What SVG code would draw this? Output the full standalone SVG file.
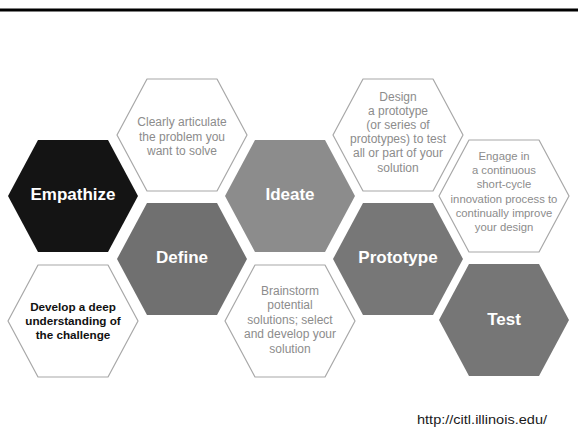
<svg xmlns="http://www.w3.org/2000/svg" xmlns:xlink="http://www.w3.org/1999/xlink" width="578" height="444" viewBox="0 0 578 444">
<style>
.bg{fill:#ffffff}
.outline{fill:#ffffff;stroke:#a8a8a8;stroke-width:1.2}
.t-big{font-family:"Liberation Sans",Arial,sans-serif;font-weight:bold;font-size:17px;fill:#ffffff;text-anchor:middle}
.t-small{font-family:"Liberation Sans",Arial,sans-serif;font-size:12px;fill:#8c8c8c;text-anchor:middle}
.t-eng{font-family:"Liberation Sans",Arial,sans-serif;font-size:11.3px;fill:#8c8c8c;text-anchor:middle}
.t-dev{font-family:"Liberation Sans",Arial,sans-serif;font-weight:bold;font-size:11.7px;fill:#111111;text-anchor:middle}
.t-url{font-family:"Liberation Sans",Arial,sans-serif;font-size:13.5px;fill:#1a1a1a}
</style>
<defs>
<polygon id="hex" points="-65,0 -35,-56 35,-56 65,0 35,56 -35,56" stroke-linejoin="round"/>
</defs>
<rect class="bg" x="0" y="0" width="578" height="444"/>
<rect x="0" y="8.5" width="578" height="3" fill="#000000"/>

<g id="connectors"></g>

<g id="empathize">
<use xlink:href="#hex" href="#hex" x="73" y="196" fill="#141414"/>
<text class="t-big" x="73" y="200">Empathize</text>
</g>

<g id="develop">
<use xlink:href="#hex" href="#hex" x="73" y="321" class="outline"/>
<text class="t-dev" x="73" y="311">Develop a deep</text>
<text class="t-dev" x="73" y="325">understanding of</text>
<text class="t-dev" x="73" y="339">the challenge</text>
</g>

<g id="clearly">
<use xlink:href="#hex" href="#hex" x="182" y="135" class="outline"/>
<text class="t-small" x="182" y="126">Clearly articulate</text>
<text class="t-small" x="182" y="140.5">the problem you</text>
<text class="t-small" x="182" y="155">want to solve</text>
</g>

<g id="define">
<use xlink:href="#hex" href="#hex" x="182" y="259" fill="#707070"/>
<text class="t-big" x="182" y="263">Define</text>
</g>

<g id="ideate">
<use xlink:href="#hex" href="#hex" x="290" y="196" fill="#8c8c8c"/>
<text class="t-big" x="290" y="200">Ideate</text>
</g>

<g id="brainstorm">
<use xlink:href="#hex" href="#hex" x="290" y="321" class="outline"/>
<text class="t-small" x="290" y="294.5">Brainstorm</text>
<text class="t-small" x="290" y="309">potential</text>
<text class="t-small" x="290" y="323.5">solutions; select</text>
<text class="t-small" x="290" y="338">and develop your</text>
<text class="t-small" x="290" y="352.5">solution</text>
</g>

<g id="design">
<use xlink:href="#hex" href="#hex" x="398" y="135" class="outline"/>
<text class="t-small" x="398" y="100.5">Design</text>
<text class="t-small" x="398" y="114.7">a prototype</text>
<text class="t-small" x="398" y="128.9">(or series of</text>
<text class="t-small" x="398" y="143.1">prototypes) to test</text>
<text class="t-small" x="398" y="157.3">all or part of your</text>
<text class="t-small" x="398" y="171.5">solution</text>
</g>

<g id="prototype">
<use xlink:href="#hex" href="#hex" x="398" y="259" fill="#777777"/>
<text class="t-big" x="398" y="263">Prototype</text>
</g>

<g id="engage">
<use xlink:href="#hex" href="#hex" x="504" y="196" class="outline"/>
<text class="t-eng" x="504" y="160">Engage in</text>
<text class="t-eng" x="504" y="174.2">a continuous</text>
<text class="t-eng" x="504" y="188.4">short-cycle</text>
<text class="t-eng" x="504" y="202.6">innovation process to</text>
<text class="t-eng" x="504" y="216.8">continually improve</text>
<text class="t-eng" x="504" y="231">your design</text>
</g>

<g id="test">
<use xlink:href="#hex" href="#hex" x="504" y="320" fill="#767676"/>
<text class="t-big" x="504" y="324.5">Test</text>
</g>

<text class="t-url" x="417" y="424" textLength="130" lengthAdjust="spacingAndGlyphs">http://citl.illinois.edu/</text>
</svg>
